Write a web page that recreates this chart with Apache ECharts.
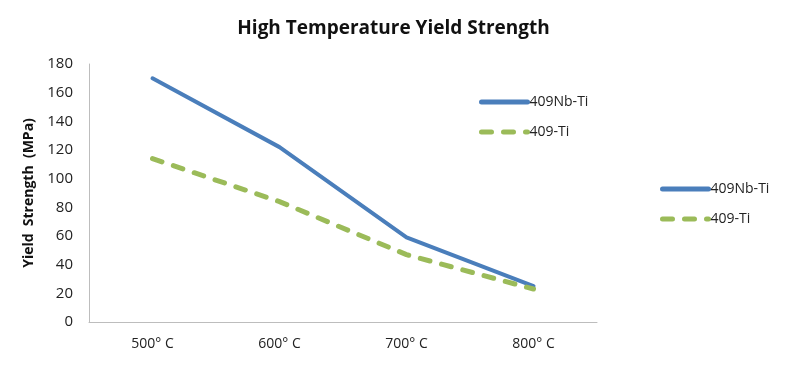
<!DOCTYPE html>
<html><head><meta charset="utf-8">
<script src="https://cdn.jsdelivr.net/npm/echarts@6/dist/echarts.min.js"></script>
<style>html,body{margin:0;padding:0;background:#fff}#c{width:787px;height:366px}</style>
</head><body><div id="c"></div>
<script>
const categories = ['500° C', '600° C', '700° C', '800° C'];
const nbTi = [170, 122, 59, 25];
const ti = [114, 84, 47, 23];
const seriesNames = ['409Nb-Ti', '409-Ti'];
const yTicks = { min: 0, max: 180, interval: 20 };

const chart = echarts.init(document.getElementById('c'), null, { renderer: 'canvas' });
const font = 'Open Sans';
const legendBase = {
  orient: 'vertical', itemWidth: 46, itemHeight: 10, itemGap: 16,
  itemStyle: { opacity: 0, borderWidth: 0 },
  lineStyle: { width: 5, cap: 'round' },
  textStyle: { fontFamily: font, fontSize: 14, color: '#222', padding: [0, 0, 0, -3] },
  data: seriesNames
};
chart.setOption({
  animation: false,
  title: {
    text: 'High Temperature Yield Strength', left: 'center', top: 14,
    textStyle: { fontFamily: font, fontSize: 19, fontWeight: 'bold', color: '#111' }
  },
  legend: [
    Object.assign({ left: 474, top: 90 }, legendBase),
    Object.assign({ left: 655, top: 177 }, legendBase)
  ],
  grid: { left: 89, right: 190, top: 64, bottom: 44 },
  xAxis: {
    type: 'category', data: categories, boundaryGap: true,
    axisLine: { lineStyle: { color: '#bdbdbd', width: 1 } },
    axisTick: { show: false },
    axisLabel: { fontFamily: font, fontSize: 14, color: '#222', margin: 15 }
  },
  yAxis: {
    type: 'value', min: yTicks.min, max: yTicks.max, interval: yTicks.interval,
    name: 'Yield  Strength  (MPa)', nameLocation: 'middle', nameGap: 48,
    nameTextStyle: { fontFamily: font, fontSize: 14, fontWeight: 'bold', color: '#111' },
    axisLine: { show: true, lineStyle: { color: '#bdbdbd', width: 1 } },
    axisTick: { show: false },
    splitLine: { show: false },
    axisLabel: { fontFamily: font, fontSize: 15, color: '#222', margin: 16 }
  },
  series: [
    { name: seriesNames[0], type: 'line', data: nbTi, symbol: 'none',
      itemStyle: { color: '#4a7ebb' },
      lineStyle: { color: '#4a7ebb', width: 4, cap: 'round', join: 'round' } },
    { name: seriesNames[1], type: 'line', data: ti, symbol: 'none',
      itemStyle: { color: '#9bbb59' },
      lineStyle: { color: '#9bbb59', width: 5, type: [10, 12], cap: 'round', join: 'round' } }
  ]
});
</script></body></html>
